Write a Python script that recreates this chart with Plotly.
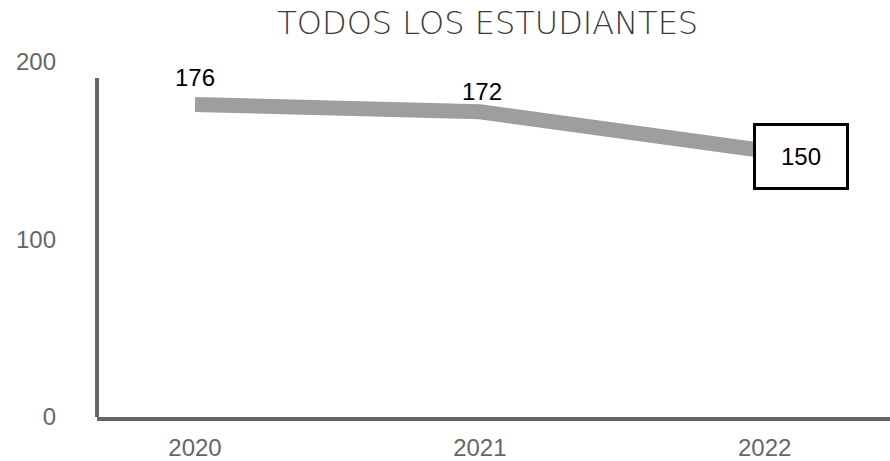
import plotly.graph_objects as go

years = ["2020", "2021", "2022"]
students = [176, 172, 150]
y_ticks = [0, 100, 200]

fig = go.Figure()

fig.add_trace(go.Scatter(
    x=years, y=students, mode="lines",
    line=dict(color="#9e9e9e", width=15),
    hoverinfo="skip", showlegend=False,
))

# value labels above each point; the last one is boxed
label_style = [
    dict(xshift=0, yshift=27, box=False),
    dict(xshift=2, yshift=20, box=False),
    dict(xshift=36, yshift=-6, box=True),
]
for i, (val, st) in enumerate(zip(students, label_style)):
    ann = dict(
        x=i, y=val, xref="x", yref="y", text=str(val), showarrow=False,
        xshift=st["xshift"], yshift=st["yshift"],
        font=dict(family="Liberation Sans, Arial", size=24, color="#000000"),
    )
    if st["box"]:
        ann.update(bordercolor="#000000", borderwidth=3, bgcolor="#ffffff",
                   width=90, height=61, borderpad=0)
    fig.add_annotation(**ann)

# left axis line stops short of the top tick
fig.add_shape(type="line", xref="x domain", yref="y", x0=0, x1=0, y0=0, y1=191,
              line=dict(color="#666666", width=4))

fig.update_layout(
    width=890, height=461,
    margin=dict(l=97, r=0, t=62, b=37),
    paper_bgcolor="white", plot_bgcolor="white",
    title=dict(text="TODOS LOS ESTUDIANTES", x=0.548, xanchor="center",
               y=0.950, yanchor="middle",
               font=dict(family="DejaVu Sans", weight=300, size=32, color="#3a3a3a")),
    xaxis=dict(type="category", range=[-0.344, 2.44], showgrid=False, zeroline=False,
               showline=True, linecolor="#666666", linewidth=4,
               ticks="", ticklabelstandoff=6,
               tickfont=dict(family="Liberation Sans, Arial", size=24, color="#666666")),
    yaxis=dict(range=[0, 200], tickvals=y_ticks, showgrid=False, zeroline=False,
               showline=False, ticks="", ticklabelstandoff=40,
               tickfont=dict(family="Liberation Sans, Arial", size=24, color="#666666")),
)

fig.write_html("out.html")
